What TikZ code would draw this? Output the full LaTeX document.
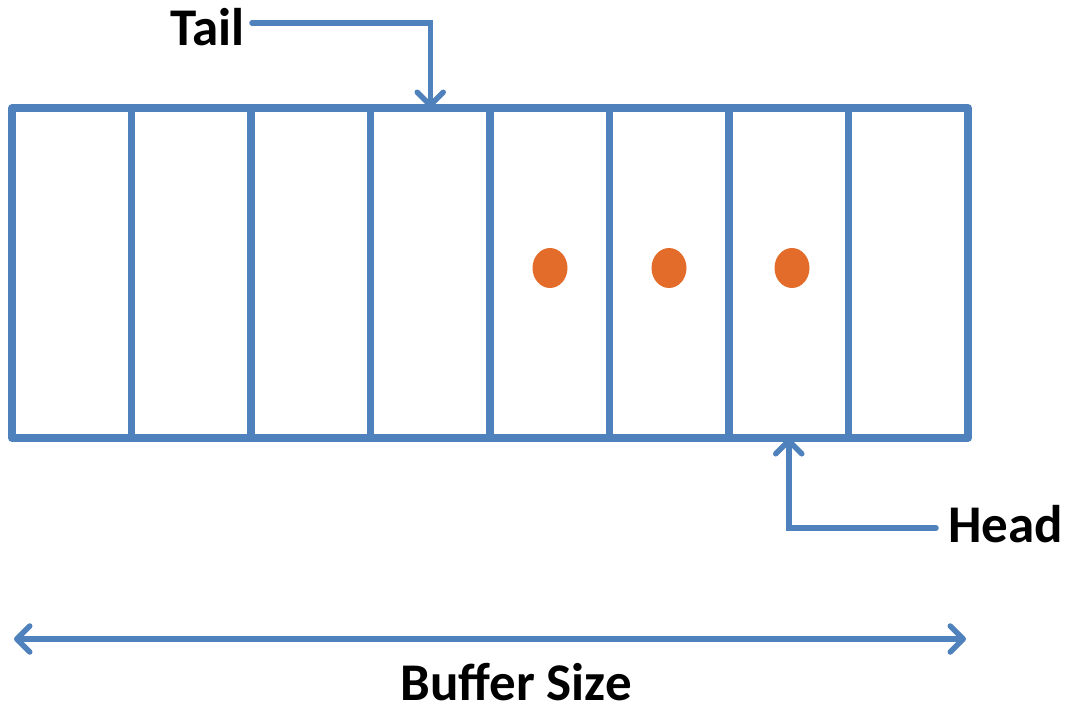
\documentclass[tikz,border=0pt]{standalone}
\usepackage{fontspec}
\setmainfont{Carlito}
\usetikzlibrary{arrows.meta,shapes.geometric}
\definecolor{bufblue}{HTML}{4F81BD}
\definecolor{itemorange}{HTML}{E46C2A}
\tikzset{
  cell/.style={draw=bufblue, line width=7.5pt, line join=round, minimum width=119.5pt,
    minimum height=330pt, inner sep=0pt, outer sep=0pt},
  item/.style={ellipse, fill=itemorange, minimum width=35pt, minimum height=40pt, inner sep=0pt},
  pointer/.style={draw=bufblue, line width=5.5pt, line cap=round, -{Straight Barb[length=13pt, width=26pt, line cap=round, line join=round]}},
  label/.style={font=\bfseries\fontsize{53}{58}\selectfont, text=black, inner sep=0pt, text depth=0pt}
}
\begin{document}
\begin{tikzpicture}[x=1pt, y=-1pt]
  \useasboundingbox (0,0) rectangle (1065,707);
  % buffer cells
  \foreach \i in {1,...,8} {
    \node[cell] (c\i) at ({12 + 119.5*(\i-0.5)}, 273) {};
  }
  % stored items
  \node[item] (d5) at (550, 268) {};
  \node[item] (d6) at (669, 268) {};
  \node[item] (d7) at (792, 268) {};
  % labels
  \node[label, anchor=base west] (tail) at (170, 45) {Tail};
  \node[label, anchor=base west] (head) at (948, 542) {Head};
  \node[label, anchor=base] (size) at (516, 700) {Buffer Size};
  % tail pointer
  \coordinate (tstart) at (252, 23);
  \draw[pointer] (tstart) -| (c4.north);
  % head pointer
  \coordinate (hstart) at (936, 528);
  \draw[pointer] (hstart) -| (c7.south);
  % buffer size span
  \coordinate (sl) at (14, 639);
  \coordinate (sr) at (966, 639);
  \draw[pointer, {Straight Barb[length=13pt, width=26pt, line cap=round, line join=round]}-{Straight Barb[length=13pt, width=26pt, line cap=round, line join=round]}] (sl) -- (sr);
\end{tikzpicture}
\end{document}
